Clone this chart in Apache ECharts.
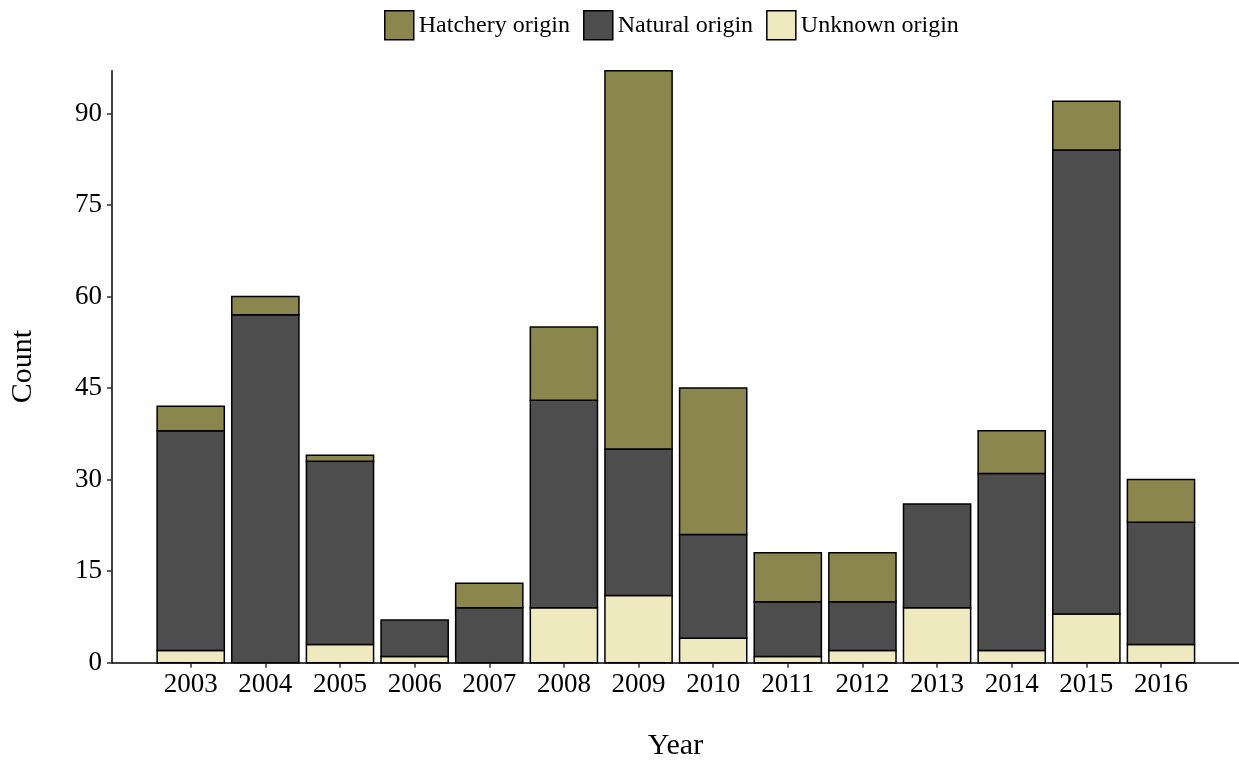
<!DOCTYPE html>
<html>
<head>
<meta charset="utf-8">
<script src="https://cdn.jsdelivr.net/npm/echarts@6/dist/echarts.min.js"></script>
<style>
    html, body { margin: 0; padding: 0; background: #fff; }
    #chart { width: 1239px; height: 761px; }
</style>
</head>
<body>
<div id="chart"></div>
<script>
var years = ['2003', '2004', '2005', '2006', '2007', '2008', '2009', '2010', '2011', '2012', '2013', '2014', '2015', '2016'];
var unknownOrigin = [2, 0, 3, 1, 0, 9, 11, 4, 1, 2, 9, 2, 8, 3];
var naturalOrigin = [36, 57, 30, 6, 9, 34, 24, 17, 9, 8, 17, 29, 76, 20];
var hatcheryOrigin = [4, 3, 1, 0, 4, 12, 62, 24, 8, 8, 0, 7, 8, 7];
var yTicks = [0, 15, 30, 45, 60, 75, 90];

var serif = 'Liberation Serif';
var yMax = 97;

// stacking done here so the segment outlines can share one edge (bar series insets its borders)
var layers = [
    { name: 'Unknown origin', values: unknownOrigin, color: '#EEE9BF' },
    { name: 'Natural origin', values: naturalOrigin, color: '#4D4D4D' },
    { name: 'Hatchery origin', values: hatcheryOrigin, color: '#8B864E' }
];
var base = years.map(function(){ return 0; });

function renderSegment(params, api){
    var lo = api.value(1), hi = api.value(2);
    if (hi <= lo) return null;
    var p0 = api.coord([api.value(0), lo]);
    var p1 = api.coord([api.value(0), hi]);
    var w = api.size([1, 0])[0] * 0.9;
    return {
        type: 'rect',
        shape: { x: p0[0] - w / 2, y: p1[1], width: w, height: p0[1] - p1[1] },
        style: { fill: api.visual('color'), stroke: '#000', lineWidth: 1.5 }
    };
}

var series = layers.map(function(layer){
    var data = layer.values.map(function(v, i){
        var item = [i, base[i], base[i] + v];
        base[i] += v;
        return item;
    });
    return {
        name: layer.name,
        type: 'custom',
        xAxisIndex: 1,
        yAxisIndex: 1,
        renderItem: renderSegment,
        encode: { x: 0, y: [1, 2] },
        itemStyle: { color: layer.color, borderColor: '#000', borderWidth: 1.5 },
        data: data
    };
});

var myChart = echarts.init(document.getElementById('chart'));
myChart.setOption({
    animation: false,
    textStyle: { fontFamily: serif },
    legend: {
        data: ['Hatchery origin', 'Natural origin', 'Unknown origin'],
        icon: 'rect',
        left: 379,
        top: 5,
        itemWidth: 29,
        itemHeight: 29,
        itemGap: 13,
        itemStyle: { borderColor: '#000', borderWidth: 1.5 },
        textStyle: { fontFamily: serif, fontSize: 24, color: '#000' }
    },
    // grid 0: the axis frame (lines run wider than the bars, like ggplot's expand)
    // grid 1: the bars on a category axis
    grid: [
        { left: 112, right: 0, top: 70.7, bottom: 98.3, outerBoundsMode: 'none' },
        { left: 153.4, right: 40.7, top: 70.7, bottom: 98.3, outerBoundsMode: 'none' }
    ],
    xAxis: [
        {
            type: 'value',
            gridIndex: 0,
            min: 0,
            max: 1,
            name: 'Year',
            nameLocation: 'middle',
            nameGap: 68,
            nameTextStyle: { fontFamily: serif, fontSize: 30, color: '#000' },
            axisLine: { show: true, lineStyle: { color: '#000', width: 1.5 } },
            axisTick: { show: false },
            axisLabel: { show: false },
            splitLine: { show: false }
        },
        {
            type: 'category',
            gridIndex: 1,
            data: years,
            axisLine: { show: false },
            axisTick: {
                show: true,
                alignWithLabel: true,
                length: 5,
                lineStyle: { color: '#333', width: 1.5 }
            },
            axisLabel: {
                margin: 9,
                fontFamily: serif,
                fontSize: 27,
                color: '#000'
            },
            splitLine: { show: false }
        }
    ],
    yAxis: [
        {
            type: 'value',
            gridIndex: 0,
            min: 0,
            max: yMax,
            name: 'Count',
            nameLocation: 'middle',
            nameGap: 74,
            nameTextStyle: { fontFamily: serif, fontSize: 30, color: '#000' },
            axisLine: { show: true, lineStyle: { color: '#000', width: 1.5 } },
            axisTick: {
                show: true,
                length: 5,
                customValues: yTicks,
                lineStyle: { color: '#333', width: 1.5 }
            },
            axisLabel: {
                customValues: yTicks,
                margin: 10,
                padding: [4, 0, 0, 0],
                fontFamily: serif,
                fontSize: 27,
                color: '#000'
            },
            splitLine: { show: false }
        },
        {
            type: 'value',
            gridIndex: 1,
            min: 0,
            max: yMax,
            show: false
        }
    ],
    series: series
});
</script>
</body>
</html>
